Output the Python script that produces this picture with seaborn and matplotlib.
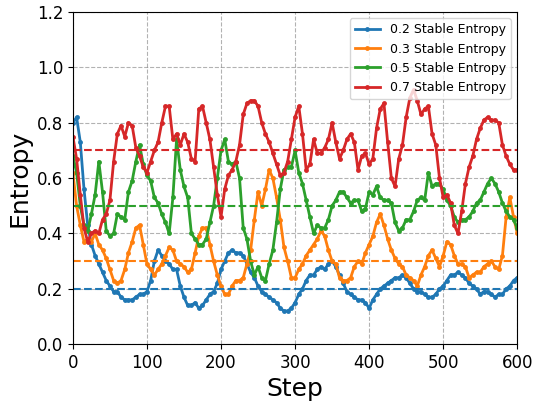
import numpy as np
import pandas as pd
import matplotlib
matplotlib.use("Agg")
import matplotlib.pyplot as plt
import seaborn as sns

steps = np.arange(0, 601, 5)
levels = [0.2, 0.3, 0.5, 0.7]
labels = ["0.2 Stable Entropy", "0.3 Stable Entropy", "0.5 Stable Entropy", "0.7 Stable Entropy"]

entropy_02 = [
    0.80, 0.82, 0.73, 0.56, 0.43, 0.36, 0.32, 0.29, 0.26, 0.23,
    0.21, 0.19, 0.19, 0.17, 0.16, 0.16, 0.16, 0.17, 0.18, 0.18,
    0.19, 0.23, 0.30, 0.34, 0.32, 0.30, 0.29, 0.27, 0.27, 0.21,
    0.17, 0.14, 0.14, 0.15, 0.13, 0.14, 0.16, 0.18, 0.19, 0.22,
    0.27, 0.30, 0.33, 0.34, 0.33, 0.33, 0.32, 0.29, 0.26, 0.24,
    0.21, 0.19, 0.18, 0.17, 0.16, 0.15, 0.13, 0.12, 0.12, 0.13,
    0.15, 0.18, 0.20, 0.23, 0.25, 0.25, 0.27, 0.28, 0.27, 0.29,
    0.30, 0.28, 0.25, 0.22, 0.19, 0.18, 0.17, 0.16, 0.16, 0.15,
    0.13, 0.16, 0.18, 0.20, 0.21, 0.22, 0.23, 0.24, 0.24, 0.25,
    0.24, 0.22, 0.20, 0.19, 0.19, 0.18, 0.17, 0.17, 0.18, 0.20,
    0.21, 0.23, 0.25, 0.25, 0.26, 0.25, 0.24, 0.22, 0.21, 0.20,
    0.18, 0.19, 0.19, 0.18, 0.17, 0.18, 0.18, 0.20, 0.21, 0.23, 0.24,
]
entropy_03 = [
    0.62, 0.50, 0.43, 0.37, 0.38, 0.37, 0.40, 0.36, 0.34, 0.31,
    0.27, 0.23, 0.22, 0.23, 0.27, 0.33, 0.37, 0.42, 0.43, 0.36,
    0.29, 0.27, 0.25, 0.27, 0.29, 0.32, 0.35, 0.34, 0.30, 0.29,
    0.28, 0.26, 0.27, 0.33, 0.39, 0.42, 0.42, 0.36, 0.30, 0.25,
    0.21, 0.18, 0.18, 0.21, 0.23, 0.23, 0.24, 0.29, 0.34, 0.45,
    0.55, 0.50, 0.56, 0.63, 0.60, 0.53, 0.45, 0.35, 0.30, 0.24,
    0.24, 0.27, 0.29, 0.32, 0.34, 0.36, 0.38, 0.41, 0.39, 0.34,
    0.30, 0.29, 0.24, 0.23, 0.23, 0.24, 0.28, 0.30, 0.29, 0.33,
    0.36, 0.39, 0.44, 0.47, 0.43, 0.38, 0.34, 0.31, 0.29, 0.28,
    0.25, 0.24, 0.23, 0.21, 0.25, 0.28, 0.32, 0.34, 0.31, 0.28,
    0.32, 0.37, 0.36, 0.32, 0.29, 0.29, 0.28, 0.24, 0.25, 0.26,
    0.26, 0.28, 0.29, 0.30, 0.28, 0.27, 0.32, 0.46, 0.53, 0.46, 0.40,
]
entropy_05 = [
    0.68, 0.62, 0.50, 0.43, 0.41, 0.47, 0.54, 0.66, 0.55, 0.41,
    0.39, 0.40, 0.47, 0.46, 0.45, 0.55, 0.59, 0.66, 0.72, 0.65,
    0.61, 0.59, 0.53, 0.51, 0.47, 0.44, 0.40, 0.53, 0.74, 0.63,
    0.57, 0.53, 0.40, 0.38, 0.36, 0.36, 0.38, 0.44, 0.50, 0.60,
    0.70, 0.74, 0.66, 0.65, 0.66, 0.60, 0.42, 0.38, 0.30, 0.25,
    0.28, 0.24, 0.23, 0.29, 0.34, 0.44, 0.56, 0.63, 0.64, 0.64,
    0.70, 0.62, 0.58, 0.52, 0.46, 0.40, 0.43, 0.42, 0.42, 0.45,
    0.50, 0.52, 0.55, 0.55, 0.53, 0.51, 0.52, 0.52, 0.48, 0.49,
    0.55, 0.54, 0.57, 0.53, 0.52, 0.52, 0.51, 0.44, 0.41, 0.42,
    0.45, 0.45, 0.48, 0.52, 0.53, 0.52, 0.62, 0.57, 0.58, 0.58,
    0.56, 0.52, 0.50, 0.46, 0.44, 0.45, 0.45, 0.46, 0.48, 0.51,
    0.52, 0.55, 0.58, 0.60, 0.58, 0.55, 0.51, 0.48, 0.46, 0.45, 0.42,
]
entropy_07 = [
    0.75, 0.67, 0.54, 0.42, 0.37, 0.40, 0.41, 0.40, 0.45, 0.47,
    0.52, 0.66, 0.76, 0.79, 0.75, 0.80, 0.79, 0.71, 0.68, 0.64,
    0.62, 0.66, 0.70, 0.73, 0.80, 0.86, 0.86, 0.74, 0.76, 0.72,
    0.76, 0.73, 0.67, 0.66, 0.85, 0.86, 0.80, 0.74, 0.64, 0.54,
    0.46, 0.56, 0.61, 0.63, 0.66, 0.72, 0.83, 0.87, 0.88, 0.88,
    0.86, 0.80, 0.76, 0.73, 0.69, 0.65, 0.61, 0.62, 0.66, 0.74,
    0.82, 0.86, 0.76, 0.63, 0.65, 0.74, 0.69, 0.69, 0.71, 0.74,
    0.80, 0.73, 0.67, 0.70, 0.74, 0.76, 0.73, 0.63, 0.68, 0.69,
    0.65, 0.67, 0.78, 0.85, 0.87, 0.73, 0.60, 0.57, 0.67, 0.72,
    0.82, 0.89, 0.92, 0.88, 0.83, 0.85, 0.86, 0.76, 0.72, 0.60,
    0.53, 0.54, 0.51, 0.43, 0.40, 0.48, 0.58, 0.64, 0.68, 0.74,
    0.78, 0.81, 0.82, 0.81, 0.81, 0.80, 0.72, 0.68, 0.65, 0.63, 0.63,
]

series = [entropy_02, entropy_03, entropy_05, entropy_07]
df = pd.concat(
    [pd.DataFrame({"Step": steps, "Entropy": vals, "run": lab}) for vals, lab in zip(series, labels)],
    ignore_index=True,
)

colors = sns.color_palette("tab10", 4)

fig, ax = plt.subplots(figsize=(5.36, 4.03), dpi=100)
sns.lineplot(data=df, x="Step", y="Entropy", hue="run", palette=colors,
             marker="o", markersize=3.5, markeredgewidth=0, linewidth=2,
             sort=False, ax=ax)

# target levels
for lvl, c in zip(levels, colors):
    ax.axhline(lvl, color=c, linestyle="--", linewidth=1.5)

ax.set_xlim(0, 600)
ax.set_ylim(0, 1.2)
ax.set_yticks(np.arange(0, 1.21, 0.2))
ax.set_xticks(np.arange(0, 601, 100))
ax.grid(True, linestyle="--", color="gray", alpha=0.6)
ax.tick_params(labelsize=12)
ax.set_xlabel("Step", fontsize=18)
ax.set_ylabel("Entropy", fontsize=18)
ax.legend(loc="upper right", fontsize=9, title=None)

fig.subplots_adjust(left=0.136, right=0.965, top=0.970, bottom=0.146)
fig.savefig("out.png", dpi=100)
